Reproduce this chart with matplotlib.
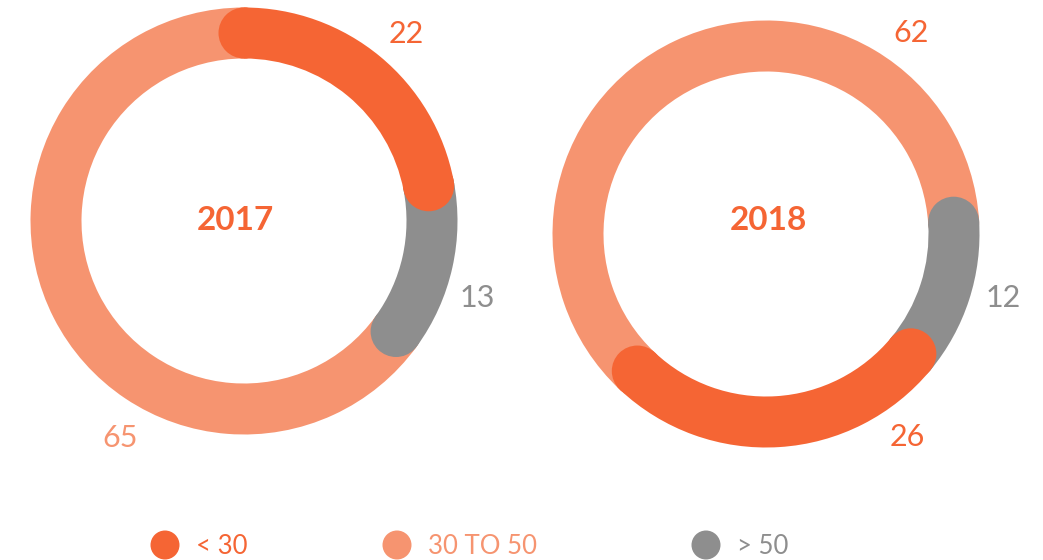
import matplotlib
matplotlib.use("Agg")
import matplotlib.pyplot as plt
from matplotlib.patches import Wedge, Circle
import numpy as np

# data
categories = ["< 30", "30 TO 50", "> 50"]
years = ["2017", "2018"]
values_2017 = [22, 65, 13]
values_2018 = [26, 62, 12]

DARK = "#F56534"
LIGHT = "#F69470"
GRAY = "#8E8E8E"
cat_colors = [DARK, LIGHT, GRAY]

# clockwise order of categories (index) and start angle (deg from 12 o'clock)
order = {"2017": [0, 2, 1], "2018": [1, 2, 0]}
start = {"2017": 0.0, "2018": 223.2}

# layout in pixels (y measured from top)
W, H = 1043, 560
centers = {"2017": (244, 221), "2018": (766, 234)}
year_pos = {"2017": (235, 220), "2018": (768, 220)}
R_OUT = 213.5
RING = 51

label_pos = {
    "2017": [(406, 34), (120, 438), (477, 298)],
    "2018": [(907, 437), (911, 33), (1003, 298)],
}
label_col = {
    "2017": [DARK, LIGHT, GRAY],
    "2018": [DARK, DARK, GRAY],
}

plt.rcParams["font.family"] = ["Lato", "DejaVu Sans"]
fig = plt.figure(figsize=(W / 100, H / 100), dpi=100)
ax = fig.add_axes([0, 0, 1, 1])
ax.set_xlim(0, W)
ax.set_ylim(0, H)
ax.axis("off")


def pos(theta, cx, cy, r):
    # theta clockwise from top, returns data coords (y up)
    a = np.deg2rad(90 - theta)
    return cx + r * np.cos(a), (H - cy) + r * np.sin(a)


for year, vals in zip(years, [values_2017, values_2018]):
    cx, cy = centers[year]
    total = sum(vals)
    segs = []
    t = start[year]
    for i in order[year]:
        span = vals[i] / total * 360
        segs.append((i, t, t + span))
        t += span
    # draw light first, then gray, then dark so caps overlap like the original
    for i in [1, 2, 0]:
        for (j, ta, tb) in segs:
            if j != i:
                continue
            ax.add_patch(Wedge((cx, H - cy), R_OUT, 90 - tb, 90 - ta,
                               width=RING, color=cat_colors[j], lw=0))
            for th in (ta, tb):
                ax.add_patch(Circle(pos(th, cx, cy, R_OUT - RING / 2),
                                    RING / 2, color=cat_colors[j], lw=0))
    yx, yy = year_pos[year]
    ax.text(yx, H - yy, year, ha="center", va="center",
            fontsize=24, fontweight="bold", color=DARK)
    for k, v in enumerate(vals):
        x, y = label_pos[year][k]
        ax.text(x, H - y, str(v), ha="center", va="center",
                fontsize=22, color=label_col[year][k])

# legend
leg_x = [165, 397, 706]
for k, name in enumerate(categories):
    ax.add_patch(Circle((leg_x[k], H - 545), 14.5, color=cat_colors[k], lw=0))
    ax.text(leg_x[k] + 31, H - 546, name, ha="left", va="center",
            fontsize=18.5, color=cat_colors[k])

fig.savefig("out.png", dpi=100)
